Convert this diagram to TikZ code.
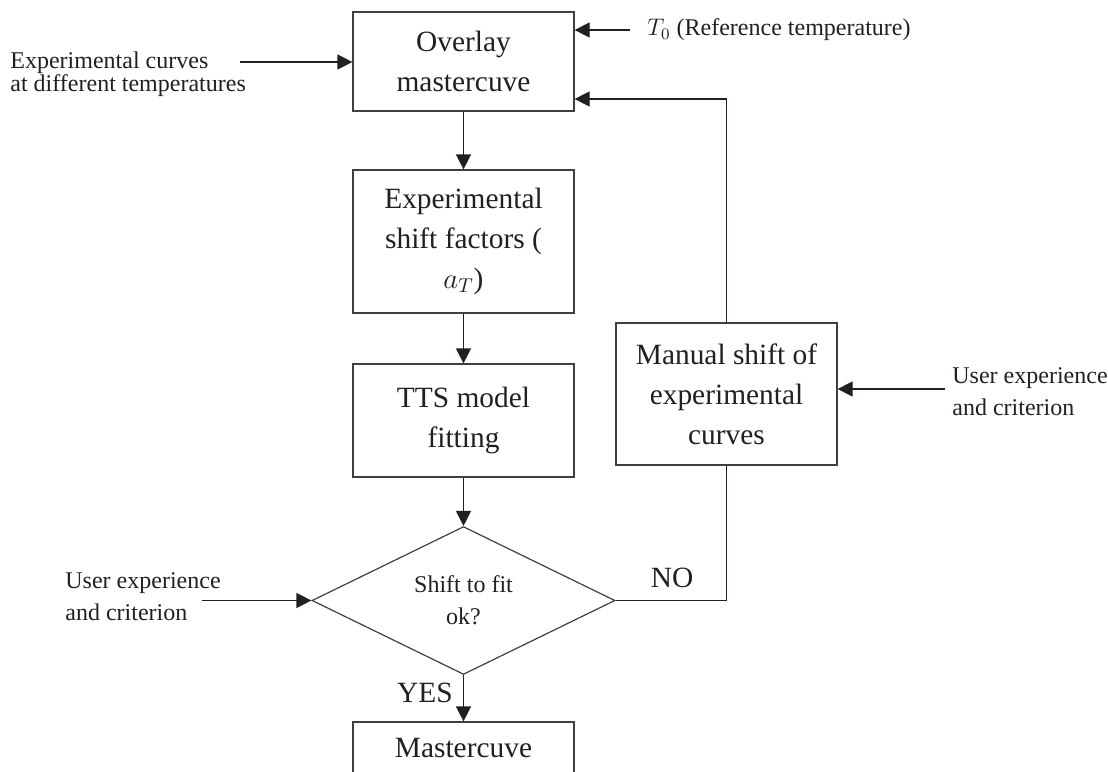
\documentclass[tikz,border=0pt]{standalone}
\usepackage{fontspec}
\setmainfont{Liberation Serif}
\usetikzlibrary{arrows.meta,shapes.geometric}
\definecolor{ink}{RGB}{35,31,32}
\begin{document}
\begin{tikzpicture}[x = 0.5pt, y = -0.5pt,
                    stepbox/.style = {shape = rectangle,
                                      draw = black!75,
                                      line width = 0.6pt,
                                      text = ink,
                                      inner sep = 0pt,
                                      minimum width = 110.5pt,
                                      align = center,
                                      font = \fontsize{14.7}{20}\selectfont},
                    sidetxt/.style = {inner sep = 0pt,
                                      anchor = west,
                                      align = left,
                                      text = ink,
                                      font = \fontsize{12}{16}\selectfont},
                    arr/.style = {draw = ink, line width = 0.6pt,
                                  -{Triangle[length = 7.5pt, width = 7.5pt]}}]
		\clip (0,0) rectangle (1108,771);
		% boxes
		\node[stepbox, minimum height = 49.5pt] (ovl) at (463.5,61.5) {Overlay\\mastercuve};
		\node[stepbox, minimum height = 71.5pt] (shf) at (463.5,241.5) {Experimental\\shift factors (\\$a_T$)};
		\node[stepbox, minimum height = 56.5pt] (tts) at (463.5,420.5) {TTS model\\fitting};
		\node[stepbox, minimum height = 71pt] (man) at (726.5,394) {Manual shift of\\experimental\\curves};
		\node[stepbox, minimum height = 26pt] (mst) at (463.5,748) {Mastercuve};
		\node[shape = diamond, draw = black!75, line width = 0.6pt, text = ink,
		      inner sep = 0pt, minimum width = 151.5pt, minimum height = 72.5pt,
		      align = center, font = \fontsize{12}{16}\selectfont] (dec) at (463.5,600.5) {Shift to fit\\ok?};
		% side texts
		\node[sidetxt, font = \fontsize{12}{11.5}\selectfont] (exc) at (10,74.5) {Experimental curves\\at different temperatures};
		\node[sidetxt] (ref) at (647,30) {$T_0$ (Reference temperature)};
		\node[sidetxt] (ue2) at (952,391.5) {User experience\\and criterion};
		\node[sidetxt] (ue1) at (65,596.5) {User experience\\and criterion};
		\node[text = ink, font = \fontsize{14.7}{18}\selectfont] (no) at (672,578) {NO};
		\node[text = ink, font = \fontsize{14.7}{18}\selectfont] (yes) at (425,693) {YES};
		% free ends
		\coordinate (c1) at (240,62);
		\coordinate (c2) at (630,30);
		\coordinate (c3) at (726.5,99);
		\coordinate (c4) at (945,389);
		\coordinate (c5) at (202,600.5);
		% connectors
		\draw[arr] (c1) -- (c1 -| ovl.west);
		\draw[arr] (c2) -- (c2 -| ovl.east);
		\draw[arr] (ovl) -- (shf);
		\draw[arr] (shf) -- (tts);
		\draw[arr] (tts) -- (dec);
		\draw[arr] (dec) -- (mst);
		\draw[arr] (c5) -- (dec.west);
		\draw[draw = ink, line width = 0.6pt] (dec.east) -| (man.south);
		\draw[arr] (man.north) -- (c3) -- (c3 -| ovl.east);
		\draw[arr] (c4) -- (c4 -| man.east);
	\end{tikzpicture}
\end{document}
